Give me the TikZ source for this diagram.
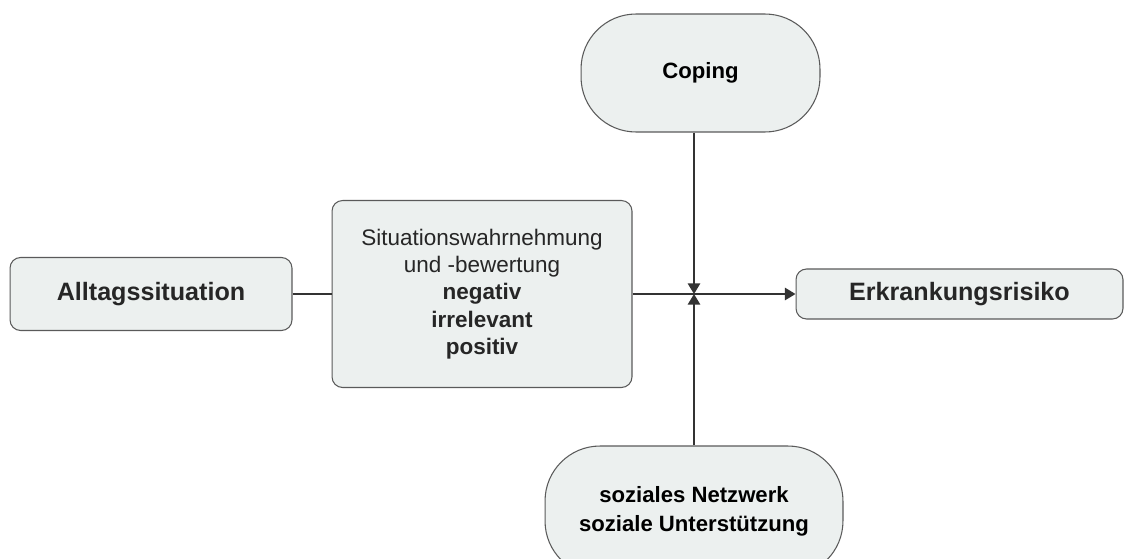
\documentclass[tikz,border=0pt]{standalone}
\usepackage{fontspec}
\setmainfont{Liberation Sans}
\usetikzlibrary{arrows.meta,positioning}
\definecolor{boxfill}{HTML}{ECF0EF}
\definecolor{boxline}{HTML}{5A5A5A}
\definecolor{linkline}{HTML}{333333}
\tikzset{
  box/.style={draw=boxline, fill=boxfill, rounded corners=6pt, line width=0.6pt,
    inner sep=0pt, align=center, text=black!85,
    font=\fontsize{14.3}{17}\selectfont\bfseries},
  pill/.style={box, rounded corners=1.1cm, font=\fontsize{12.6}{16.5}\selectfont\bfseries},
  link/.style={draw=linkline, line width=0.9pt},
  tip/.style={-{Triangle[length=6pt,width=7pt]}}
}
\begin{document}
\begin{tikzpicture}[x=0.02cm,y=-0.02cm]
\clip (0,0) rectangle (1125,558);
\fill[white] (0,0) rectangle (1125,558);

\node[box, minimum width=5.64cm, minimum height=1.46cm] (alltag) at (151,294) {Alltagssituation};
\node[box, minimum width=6cm, minimum height=3.74cm,
  font=\fontsize{12.8}{15.6}\selectfont] (sit) at (482,294)
  {Situationswahrnehmung\\und -bewertung\\\textbf{negativ}\\\textbf{irrelevant}\\\textbf{positiv}};
\node[box, minimum width=6.54cm, minimum height=1cm] (erk) at (959.5,294) {Erkrankungsrisiko};
\node[pill, minimum width=4.78cm, minimum height=2.36cm, text=black] (coping) at (700.5,73) {Coping};
\node[pill, minimum width=5.96cm, minimum height=2.6cm, text=black] (netz) at (694,511)
  {soziales Netzwerk\\soziale Unterstützung};

\coordinate (cross) at (694,294);

\draw[link] (alltag.east) -- (sit.west);
\draw[link,tip] (sit.east) -- (erk.west);
\draw[link,tip] (cross |- coping.south) -- (cross);
\draw[link,tip] (cross |- netz.north) -- (cross);
\end{tikzpicture}
\end{document}
